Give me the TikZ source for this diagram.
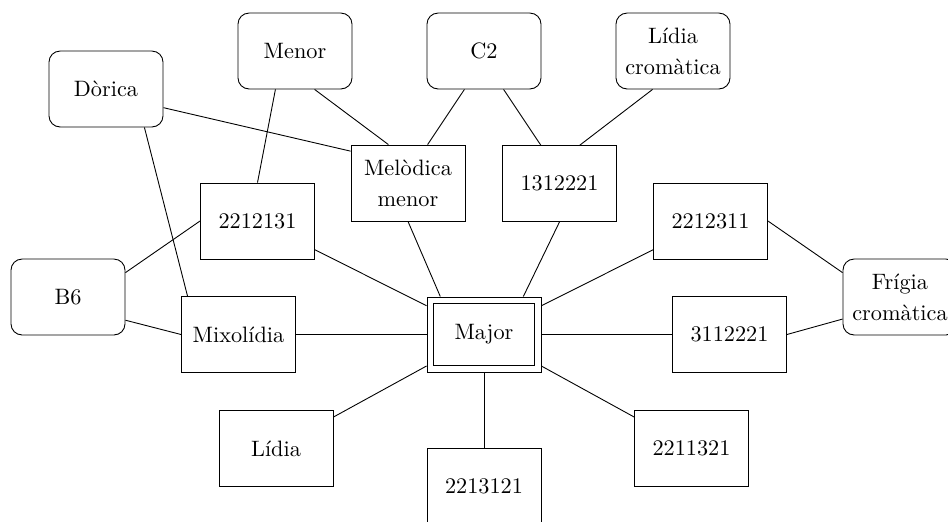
\documentclass[tikz,border=0pt]{standalone}
\begin{document}
\begin{tikzpicture}[x=0.449pt,y=-0.449pt,
  box/.style={draw, minimum width=51.2pt, minimum height=34.1pt, align=center, inner sep=2pt},
  rbox/.style={box, rounded corners=5pt},
  link/.style={draw}]
\clip (0,0) rectangle (948,521);
% top row
\node[rbox] (Dorica) at (106,89) {Dòrica};
\node[rbox] (Menor) at (295,51) {Menor};
\node[rbox] (C2) at (484,51) {C2};
\node[rbox] (LidCrom) at (673,51) {Lídia\\[2pt]cromàtica};
% second row
\node[box] (Melod) at (408,183) {Melòdica\\[2pt]menor};
\node[box] (Na) at (559.5,183.5) {1312221};
\node[box] (Nb) at (257.5,221) {2212131};
\node[box] (Nc) at (710.5,221) {2212311};
% middle row
\node[rbox] (B6) at (68,297) {B6};
\node[rbox] (Frigia) at (900,297) {Frígia\\[2pt]cromàtica};
\node[box] (Mix) at (238.5,334.5) {Mixolídia};
\node[box, minimum height=33.7pt] (Major) at (484,334.5) {Major};
\draw ([shift={(3.2pt,-3.2pt)}]Major.north west) rectangle ([shift={(-3.2pt,3.2pt)}]Major.south east);
\node[box] (Nd) at (729.5,334.5) {3112221};
% bottom row
\node[box] (Lidia) at (276,448.5) {Lídia};
\node[box] (Ne) at (484,486) {2213121};
\node[box] (Nf) at (691.5,448.5) {2211321};
% connectors
\path[link] (Dorica.-18.4) -- (Melod.151.5);
\path[link] (Dorica.-45) -- (Mix.143.4);
\path[link] (Menor.243.4) -- (Nb.north);
\path[link] (Menor.-63.4) -- (Melod.117.8);
\path[link] (C2.243.4) -- (Melod.63.4);
\path[link] (C2.-63.4) -- (Na.116.3);
\path[link] (LidCrom.242.2) -- (Na.62.5);
\path[link] (B6.23.2) -- (Nb.west);
\path[link] (B6.-22.3) -- (Mix.west);
\path[link] (Nb) -- (Major);
\path[link] (Melod.south) -- (Major.139.6);
\path[link] (Na.south) -- (Major.44.6);
\path[link] (Nc) -- (Major);
\path[link] (Nc.east) -- (Frigia.157.2);
\path[link] (Nd.east) -- (Frigia.201.1);
\path[link] (Mix) -- (Major);
\path[link] (Major) -- (Nd);
\path[link] (Major) -- (Lidia);
\path[link] (Major) -- (Ne);
\path[link] (Major) -- (Nf);
\end{tikzpicture}
\end{document}
